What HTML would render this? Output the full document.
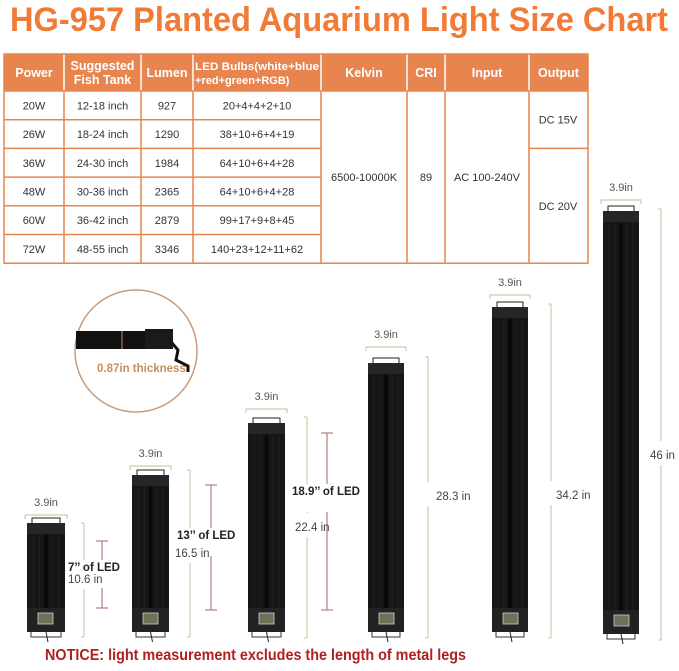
<!DOCTYPE html>
<html><head><meta charset="utf-8"><style>
body{margin:0;width:679px;height:666px;background:#fff;overflow:hidden;font-family:"Liberation Sans",sans-serif}
</style></head><body>
<svg id="s" width="679" height="666" xmlns="http://www.w3.org/2000/svg" font-family="Liberation Sans, sans-serif">
<text x="339" y="31" text-anchor="middle" font-size="34" font-weight="bold" fill="#f07a36" textLength="658" lengthAdjust="spacingAndGlyphs">HG-957 Planted Aquarium Light Size Chart</text>
<g id="tbl"></g>
<g id="lights"></g>
<circle cx="136" cy="351" r="61" fill="none" stroke="#c89a7a" stroke-width="1.5"/>
<rect x="76" y="331" width="70" height="18" fill="#111"/>
<line x1="122" y1="331" x2="122" y2="349" stroke="#c8906a" stroke-width="1"/>
<rect x="145" y="329" width="28" height="20" fill="#1a1a1a"/>
<path d="M172 343 L178 350 L176 360 L188 366 L188 372" fill="none" stroke="#111" stroke-width="3"/>
<text x="97" y="372" font-size="11.5" font-weight="bold" fill="#c98e5c">0.87in thickness</text>
<text x="45" y="660" font-size="15.5" font-weight="bold" fill="#b21f1f" textLength="421" lengthAdjust="spacingAndGlyphs">NOTICE: light measurement excludes the length of metal legs</text>
</svg>
<script>
(function(){
const S='http://www.w3.org/2000/svg';
function el(p,t,a,txt){const e=document.createElementNS(S,t);for(const k in a){if(a[k]!==null&&a[k]!==undefined)e.setAttribute(k,a[k]);}if(txt!==undefined)e.textContent=txt;p.appendChild(e);return e;}
const T=document.getElementById('tbl');
const cx=[4,64,141,193,321,407,445,529,588];
const tY=54,hb=91,rh=28.7;
const OR='#e8844e';
el(T,'rect',{x:4,y:tY,width:584,height:hb-tY,fill:OR});
const heads=[["Power"],["Suggested","Fish Tank"],["Lumen"],["LED Bulbs(white+blue","+red+green+RGB)"],["Kelvin"],["CRI"],["Input"],["Output"]];
heads.forEach((h,i)=>{const m=(cx[i]+cx[i+1])/2;
 if(h.length==1)el(T,'text',{x:m,y:77,'text-anchor':'middle','font-size':12.5,'font-weight':'bold',fill:'#fff'},h[0]);
 else h.forEach((l,j)=>{const a={x:i==3?cx[i]+2:m,y:70+j*14,'text-anchor':i==3?'start':'middle','font-size':i==3?11:12.5,'font-weight':'bold',fill:'#fff'};
   if(i==3&&j==0){a.textLength=124;a.lengthAdjust='spacingAndGlyphs';}
   el(T,'text',a,l);});
});
const rows=[["20W","12-18 inch","927","20+4+4+2+10"],["26W","18-24 inch","1290","38+10+6+4+19"],["36W","24-30 inch","1984","64+10+6+4+28"],["48W","30-36 inch","2365","64+10+6+4+28"],["60W","36-42 inch","2879","99+17+9+8+45"],["72W","48-55 inch","3346","140+23+12+11+62"]];
const bot=hb+6*rh;
rows.forEach((r,ri)=>{const y=hb+ri*rh;r.forEach((c,i)=>el(T,'text',{x:(cx[i]+cx[i+1])/2,y:y+rh/2+4,'text-anchor':'middle','font-size':11,fill:'#333'},c));
 el(T,'line',{x1:4,x2:321,y1:y+rh,y2:y+rh,stroke:OR,'stroke-width':1.5});});
const my=(hb+bot)/2+4;
el(T,'text',{x:364,y:my,'text-anchor':'middle','font-size':11,fill:'#333'},'6500-10000K');
el(T,'text',{x:426,y:my,'text-anchor':'middle','font-size':11,fill:'#333'},'89');
el(T,'text',{x:487,y:my,'text-anchor':'middle','font-size':11,fill:'#333'},'AC 100-240V');
el(T,'line',{x1:529,x2:588,y1:hb+2*rh,y2:hb+2*rh,stroke:OR,'stroke-width':1.5});
el(T,'text',{x:558,y:hb+rh+4,'text-anchor':'middle','font-size':11,fill:'#333'},'DC 15V');
el(T,'text',{x:558,y:hb+4*rh+4,'text-anchor':'middle','font-size':11,fill:'#333'},'DC 20V');
cx.slice(1,8).forEach(x=>{el(T,'line',{x1:x,x2:x,y1:tY,y2:hb,stroke:'#fff','stroke-width':1.5});el(T,'line',{x1:x,x2:x,y1:hb,y2:bot,stroke:OR,'stroke-width':1.5});});
el(T,'rect',{x:4,y:tY,width:584,height:bot-tY,fill:'none',stroke:OR,'stroke-width':1.5});
el(T,'line',{x1:4,x2:588,y1:hb,y2:hb,stroke:OR,'stroke-width':1.5});

const L=document.getElementById('lights');
const TAN='#d8c6ae',RED='#b07f78';
const lights=[
 {x:27,w:38,top:523,bot:632,ly:506,dx:84,d1:523,d2:637,dl:"10.6 in",dly:583,dlx:68,led:[102,541,608],lt:"7’’ of LED",ltx:68,lty:571},
 {x:132,w:37,top:475,bot:632,ly:457,dx:190,d1:470,d2:637,dl:"16.5 in",dly:557,dlx:175,led:[211,485,610],lt:"13’’ of LED",ltx:177,lty:539},
 {x:248,w:37,top:423,bot:632,ly:400,dx:307,d1:417,d2:638,dl:"22.4 in",dly:531,dlx:295,led:[327,433,610],lt:"18.9’’ of LED",ltx:292,lty:495},
 {x:368,w:36,top:363,bot:632,ly:338,dx:428,d1:357,d2:638,dl:"28.3 in",dly:500,dlx:436},
 {x:492,w:36,top:307,bot:632,ly:286,dx:551,d1:304,d2:638,dl:"34.2 in",dly:499,dlx:556},
 {x:603,w:36,top:211,bot:634,ly:191,dx:661,d1:209,d2:640,dl:"46 in",dly:459,dlx:650}];
lights.forEach(o=>{const x=o.x,w=o.w;
 el(L,'text',{x:x+w/2,y:o.ly,'text-anchor':'middle','font-size':11,fill:'#555'},'3.9in');
 el(L,'path',{d:`M${x-2} ${o.ly+13}V${o.ly+9}H${x+w+2}V${o.ly+13}`,fill:'none',stroke:TAN,'stroke-width':1.2});
 el(L,'rect',{x:x+5,y:o.top-5,width:w-10,height:8,fill:'#fff',stroke:'#222','stroke-width':1});
 el(L,'rect',{x:x,y:o.top,width:w,height:o.bot-o.top,fill:'#161616'});
 el(L,'rect',{x:x,y:o.top,width:w,height:11,fill:'#262626'});
 for(let k=1;k<6;k++)el(L,'line',{x1:x+k*w/6,x2:x+k*w/6,y1:o.top+12,y2:o.bot-24,stroke:'#222','stroke-width':1});
 el(L,'rect',{x:x+w/2-2,y:o.top+12,width:4,height:o.bot-o.top-36,fill:'#080808'});
 el(L,'rect',{x:x,y:o.bot-24,width:w,height:24,fill:'#222'});
 el(L,'rect',{x:x+11,y:o.bot-19,width:15,height:11,fill:'#6b7358',stroke:'#ccc','stroke-width':0.8});
 el(L,'path',{d:`M${x+4} ${o.bot}V${o.bot+5}H${x+w-4}V${o.bot}`,fill:'none',stroke:'#333','stroke-width':1});
 el(L,'line',{x1:x+w/2,x2:x+w/2+2,y1:o.bot,y2:o.bot+10,stroke:'#222','stroke-width':1});
 const ty=o.dly-4;
 el(L,'line',{x1:o.dx-3,x2:o.dx,y1:o.d1,y2:o.d1,stroke:TAN,'stroke-width':1.2});
 el(L,'line',{x1:o.dx-3,x2:o.dx,y1:o.d2,y2:o.d2,stroke:TAN,'stroke-width':1.2});
 el(L,'line',{x1:o.dx,x2:o.dx,y1:o.d1,y2:ty-14,stroke:TAN,'stroke-width':1.2});
 el(L,'line',{x1:o.dx,x2:o.dx,y1:ty+10,y2:o.d2,stroke:TAN,'stroke-width':1.2});
 if(o.led){const lx=o.led[0],a=o.led[1],b=o.led[2];
  el(L,'line',{x1:lx-6,x2:lx+6,y1:a,y2:a,stroke:RED,'stroke-width':1.2});
  el(L,'line',{x1:lx-6,x2:lx+6,y1:b,y2:b,stroke:RED,'stroke-width':1.2});
  el(L,'line',{x1:lx,x2:lx,y1:a,y2:b,stroke:RED,'stroke-width':1.2});
  el(L,'rect',{x:o.ltx-2,y:o.lty-11,width:o.lt.length*6.6+4,height:28,fill:'#fff'});
  el(L,'text',{x:o.ltx,y:o.lty,'font-size':11.5,'font-weight':'bold',fill:'#222'},o.lt);
 }
 el(L,'text',{x:o.dlx,y:o.dly,'font-size':11.5,fill:'#444'},o.dl);
});
})();
</script>
</body></html>
